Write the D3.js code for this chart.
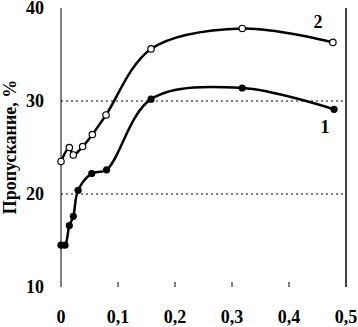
<!DOCTYPE html>
<html><head><meta charset="utf-8">
<script src="https://cdn.jsdelivr.net/npm/d3@7"></script>
<style>body{margin:0;background:#fff}svg{display:block}text{font-family:"Liberation Serif","Times New Roman",serif;font-weight:bold;fill:#000}</style>
</head><body>
<script>
const xTicks = [0, 0.1, 0.2, 0.3, 0.4, 0.5];
const xTickLabels = ["0", "0,1", "0,2", "0,3", "0,4", "0,5"];
const yTicks = [10, 20, 30, 40];
const gridValues = [20, 30];
const series1X = [0, 0.007, 0.0146, 0.0216, 0.030, 0.054, 0.080, 0.158, 0.318, 0.479];
const series1Y = [14.5, 14.5, 16.6, 17.6, 20.4, 22.2, 22.6, 30.2, 31.4, 29.1];
const series2X = [0, 0.0146, 0.0216, 0.038, 0.055, 0.079, 0.158, 0.318, 0.477];
const series2Y = [23.5, 25.0, 24.2, 25.1, 26.4, 28.5, 35.6, 37.8, 36.3];
const yTitle = "Пропускание, %";

const W = 358, H = 327;
const svg = d3.select("body").append("svg").attr("width", W).attr("height", H);
const x = d3.scaleLinear().domain([0, 0.5]).range([61, 346]);
const y = d3.scaleLinear().domain([10, 40]).range([287, 8]);

// grid
svg.selectAll("line.grid").data(gridValues).enter().append("line")
  .attr("x1", x(0)).attr("x2", x(0.5) - 2)
  .attr("y1", d => y(d)).attr("y2", d => y(d))
  .attr("stroke", "#000").attr("stroke-width", 1).attr("stroke-dasharray", "2,3");

// axes lines
svg.append("line").attr("x1", x(0)).attr("x2", x(0)).attr("y1", y(40)).attr("y2", y(10)).attr("stroke", "#000").attr("stroke-width", 1);
svg.append("line").attr("x1", x(0.5)).attr("x2", x(0.5)).attr("y1", y(40)).attr("y2", y(10)).attr("stroke", "#000").attr("stroke-width", 1.5);

// x ticks
svg.selectAll("line.xt").data(xTicks.slice(1, -1)).enter().append("line")
  .attr("x1", d => x(d)).attr("x2", d => x(d)).attr("y1", y(10)).attr("y2", y(10) - 5)
  .attr("stroke", "#000").attr("stroke-width", 1);
svg.selectAll("text.xl").data(xTicks).enter().append("text")
  .attr("x", d => x(d)).attr("y", 323).attr("text-anchor", "middle")
  .attr("font-size", 18).text((d, i) => xTickLabels[i]);

// y labels
svg.selectAll("text.yl").data(yTicks).enter().append("text")
  .attr("x", 44).attr("y", d => y(d)).attr("dy", "0.35em").attr("text-anchor", "end")
  .attr("font-size", 18).text(d => d);

// y title
svg.append("text").attr("transform", "translate(16,147) rotate(-90)")
  .attr("text-anchor", "middle").attr("font-size", 18).text(yTitle);

const line = d3.line().x(d => x(d[0])).y(d => y(d[1])).curve(d3.curveCatmullRom.alpha(0.5));
const s1 = series1X.map((v, i) => [v, series1Y[i]]);
const s2 = series2X.map((v, i) => [v, series2Y[i]]);

svg.append("path").attr("d", line(s2)).attr("fill", "none").attr("stroke", "#000").attr("stroke-width", 2.5);
svg.append("path").attr("d", line(s1)).attr("fill", "none").attr("stroke", "#000").attr("stroke-width", 2.5);

svg.selectAll("circle.s2").data(s2).enter().append("circle")
  .attr("cx", d => x(d[0])).attr("cy", d => y(d[1])).attr("r", 3.2)
  .attr("fill", "#fff").attr("stroke", "#000").attr("stroke-width", 1.2);
svg.selectAll("circle.s1").data(s1).enter().append("circle")
  .attr("cx", d => x(d[0])).attr("cy", d => y(d[1])).attr("r", 3.6)
  .attr("fill", "#000");

svg.append("text").attr("x", 318).attr("y", 28).attr("text-anchor", "middle").attr("font-size", 18).text("2");
svg.append("text").attr("x", 325).attr("y", 133).attr("text-anchor", "middle").attr("font-size", 18).text("1");
</script>
</body></html>
